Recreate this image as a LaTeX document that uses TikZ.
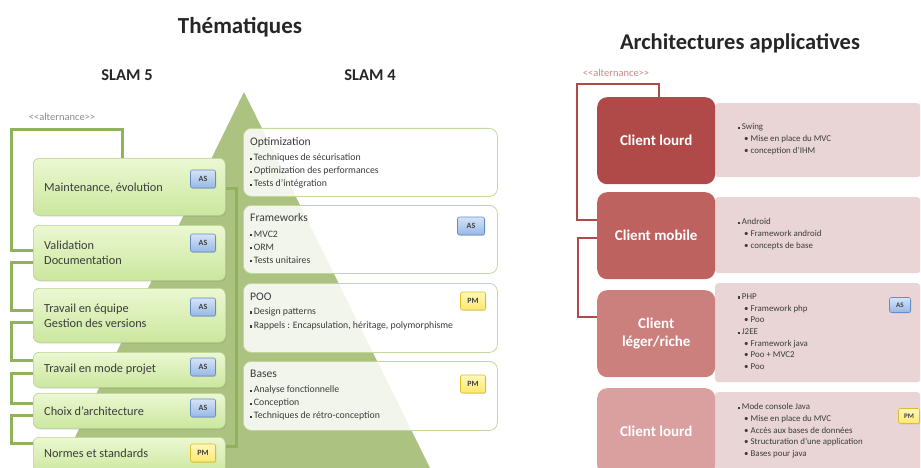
\documentclass[tikz,border=0pt]{standalone}
\usepackage{fontspec}
\setmainfont{Carlito}
\usetikzlibrary{shadows}
\definecolor{pyr}{RGB}{172,194,128}
\definecolor{gline}{RGB}{143,178,90}
\definecolor{lboxtop}{RGB}{236,248,210}
\definecolor{lboxbot}{RGB}{203,231,158}
\definecolor{lboxdraw}{RGB}{182,212,138}
\definecolor{rboxdraw}{RGB}{196,215,155}
\definecolor{astop}{RGB}{214,228,247}
\definecolor{asbot}{RGB}{150,184,230}
\definecolor{asdraw}{RGB}{100,140,200}
\definecolor{pmtop}{RGB}{255,248,185}
\definecolor{pmbot}{RGB}{255,232,110}
\definecolor{pmdraw}{RGB}{220,190,40}
\definecolor{redA}{RGB}{176,74,72}
\definecolor{redB}{RGB}{190,98,96}
\definecolor{redC}{RGB}{204,128,126}
\definecolor{redD}{RGB}{217,160,159}
\definecolor{pinkbg}{RGB}{233,213,213}
\definecolor{txt}{RGB}{60,60,60}
\newcommand\sqb{\raisebox{0.8pt}{\rule{2.2pt}{2.2pt}}\hspace{1.5pt}}
\newcommand\subb{\hspace*{6pt}\textbullet\ }
\pgfdeclarelayer{bg}
\pgfsetlayers{bg,main}
\tikzset{
  lbox/.style={rounded corners=6pt, top color=lboxtop, bottom color=lboxbot, draw=lboxdraw, line width=0.6pt,
    drop shadow={opacity=0.25,shadow xshift=1pt,shadow yshift=-1.2pt}, minimum width=192pt, anchor=north west, inner sep=0pt},
  ltext/.style={font=\fontsize{12.3}{15}\selectfont, text=txt, anchor=west, align=left, inner sep=0pt},
  rbox/.style={rounded corners=8pt, fill=white, fill opacity=0.85, draw=rboxdraw, line width=0.8pt,
    minimum width=254pt, anchor=north west, inner sep=0pt},
  ititle/.style={font=\fontsize{11.6}{13}\selectfont, text=txt, anchor=west, inner sep=0pt},
  items/.style={font=\fontsize{9.8}{13}\selectfont, text=txt, anchor=north west, align=left, inner sep=0pt},
  badge/.style={rounded corners=2pt, minimum width=25pt, minimum height=18pt, inner sep=0pt,
    font=\bfseries\fontsize{8}{9}\selectfont, text=black!75,
    drop shadow={opacity=0.25, shadow xshift=0.8pt, shadow yshift=-0.8pt}},
  asb/.style={badge, top color=astop, bottom color=asbot, draw=asdraw, line width=0.6pt},
  pmb/.style={badge, top color=pmtop, bottom color=pmbot, draw=pmdraw, line width=0.6pt},
  smallb/.style={minimum width=21pt, minimum height=15pt, font=\bfseries\fontsize{7}{8}\selectfont},
  redbox/.style={rounded corners=10pt, minimum width=118pt, minimum height=87pt, anchor=north west, inner sep=0pt,
    text=white, font=\bfseries\fontsize{15}{18}\selectfont, align=center},
  pinkbox/.style={fill=pinkbg, rounded corners=3pt, minimum width=205pt, anchor=north west, inner sep=0pt},
  ptext/.style={font=\fontsize{8.9}{11.7}\selectfont, text=txt, anchor=north west, align=left, inner sep=0pt},
  gbr/.style={draw=gline, line width=3pt},
  rbr/.style={draw=redA, line width=2.5pt},
  ttl/.style={font=\bfseries\fontsize{23}{26}\selectfont, text=black!85, inner sep=0pt},
  subttl/.style={font=\bfseries\fontsize{16.5}{19}\selectfont, text=black!85, inner sep=0pt},
  alt/.style={font=\fontsize{10.5}{12}\selectfont, inner sep=0pt}
}
\begin{document}
\begin{tikzpicture}[x=1pt,y=-1pt]
\useasboundingbox (0,0) rectangle (921,468);
\begin{pgfonlayer}{bg}
\fill[white] (0,0) rectangle (921,468);
\fill[pyr] (244,92) -- (432,472) -- (58,472) -- cycle;
\end{pgfonlayer}

% titles
\node[ttl] (thm) at (240,27) {Thématiques};
\node[subttl] (s5) at (127,75) {SLAM 5};
\node[subttl] (s4) at (370,75) {SLAM 4};
\node[ttl, font=\bfseries\fontsize{22.5}{26}\selectfont] (arch) at (740,43) {Architectures applicatives};
\node[alt, text=black!45] (altl) at (62,117) {<\kern0pt<alternance>\kern0pt>};
\node[alt, text=redA!65] (altr) at (616,73) {<\kern0pt<alternance>\kern0pt>};

% left (SLAM 5) boxes
\node[lbox, minimum height=57pt] (l1) at (33,158) {};
\node[lbox, minimum height=55pt] (l2) at (33,225) {};
\node[lbox, minimum height=54pt] (l3) at (33,288) {};
\node[lbox, minimum height=35pt] (l4) at (33,352) {};
\node[lbox, minimum height=35pt] (l5) at (33,393) {};
\node[lbox, minimum height=36pt] (l6) at (33,437) {};
\node[ltext] (t1) at (44,188) {Maintenance, évolution};
\node[ltext] (t2) at (44,252.5) {Validation\\Documentation};
\node[ltext] (t3) at (44,315.5) {Travail en équipe\\Gestion des versions};
\node[ltext] (t4) at (44,369) {Travail en mode projet};
\node[ltext] (t5) at (44,411) {Choix d'architecture};
\node[ltext] (t6) at (44,453) {Normes et standards};
\node[asb] (b1) at (203,179) {AS};
\node[asb] (b2) at (203,243) {AS};
\node[asb] (b3) at (203,307) {AS};
\node[asb] (b4) at (203,367) {AS};
\node[asb] (b5) at (203,408) {AS};
\node[pmb] (b6) at (203,453) {PM};

% green bracket connectors
\begin{pgfonlayer}{bg}
\draw[gbr] (l1.east |- 0,188) -- (236,188) -- (236,446) -- (l6.east |- 0,446);
\draw[gbr] ([xshift=-7pt]l1.north) |- (11,130) |- ([yshift=2.5pt]l2.west);
\draw[gbr] ([yshift=-9.5pt]l2.west) -- ++(-22,0) |- ([yshift=5pt]l3.west);
\draw[gbr] ([yshift=-7pt]l3.west) -- ++(-22,0) |- ([yshift=9.5pt]l4.west);
\draw[gbr] ([yshift=-3.5pt]l4.west) -- ++(-22,0) |- ([yshift=7.5pt]l5.west);
\draw[gbr] ([yshift=-4.5pt]l5.west) -- ++(-22,0) |- ([yshift=12pt]l6.west);
\end{pgfonlayer}

% right (SLAM 4) boxes
\node[rbox, minimum height=68pt] (ra) at (243,128) {};
\node[rbox, minimum height=68pt] (rb) at (243,205) {};
\node[rbox, minimum height=69pt] (rc) at (243,283) {};
\node[rbox, minimum height=69pt] (rd) at (243,361) {};
\node[ititle] (ta) at (250,142) {Optimization};
\node[items] (ia) at (250,153.5) {\sqb Techniques de sécurisation\\\sqb Optimization des performances\\\sqb Tests d'intégration};
\node[ititle] (tb) at (250,218) {Frameworks};
\node[items] (ib) at (250,230.5) {\sqb MVC2\\\sqb ORM\\\sqb Tests unitaires};
\node[ititle] (tc) at (250,297) {POO};
\node[items, font=\fontsize{9.8}{14}\selectfont] (ic) at (250,307.5) {\sqb Design patterns\\\sqb Rappels : Encapsulation, héritage, polymorphisme};
\node[ititle] (td) at (250,374) {Bases};
\node[items] (id) at (250,385.5) {\sqb Analyse fonctionnelle\\\sqb Conception\\\sqb Techniques de rétro-conception};
\node[asb, minimum width=27pt] (bb) at (471,226) {AS};
\node[pmb, minimum width=25pt] (bc) at (473,301) {PM};
\node[pmb, minimum width=25pt] (bd) at (473,384) {PM};

% architectures
\node[pinkbox, minimum height=74pt] (p1) at (715,103) {};
\node[pinkbox, minimum height=76pt] (p2) at (715,197) {};
\node[pinkbox, minimum height=99pt] (p3) at (715,283) {};
\node[pinkbox, minimum height=84pt] (p4) at (715,392) {};
\node[redbox, fill=redA] (c1) at (597,97) {Client lourd};
\node[redbox, fill=redB] (c2) at (597,192) {Client mobile};
\node[redbox, fill=redC] (c3) at (597,290) {Client\\léger/riche};
\node[redbox, fill=redD] (c4) at (597,388) {Client lourd};
\node[ptext] (q1) at (738,123.5) {\sqb Swing\\\subb Mise en place du MVC\\\subb conception d'IHM};
\node[ptext] (q2) at (738,218.5) {\sqb Android\\\subb Framework android\\\subb concepts de base};
\node[ptext] (q3) at (738,293.5) {\sqb PHP\\\subb Framework php\\\subb Poo\\\sqb J2EE\\\subb Framework java\\\subb Poo + MVC2\\\subb Poo};
\node[ptext] (q4) at (738,403.5) {\sqb Mode console Java\\\subb Mise en place du MVC\\\subb Accès aux bases de données\\\subb Structuration d'une application\\\subb Bases pour java};
\node[asb, smallb] (bp3) at (900,305) {AS};
\node[pmb, smallb] (bp4) at (909,416) {PM};

\begin{pgfonlayer}{bg}
\draw[rbr] ([xshift=3pt]c1.north) |- (577,84) |- ([yshift=15.5pt]c2.west);
\draw[rbr] ([yshift=-2.5pt]c2.west) -- ++(-19,0) |- ([yshift=16.5pt]c3.west);
\end{pgfonlayer}
\end{tikzpicture}
\end{document}
